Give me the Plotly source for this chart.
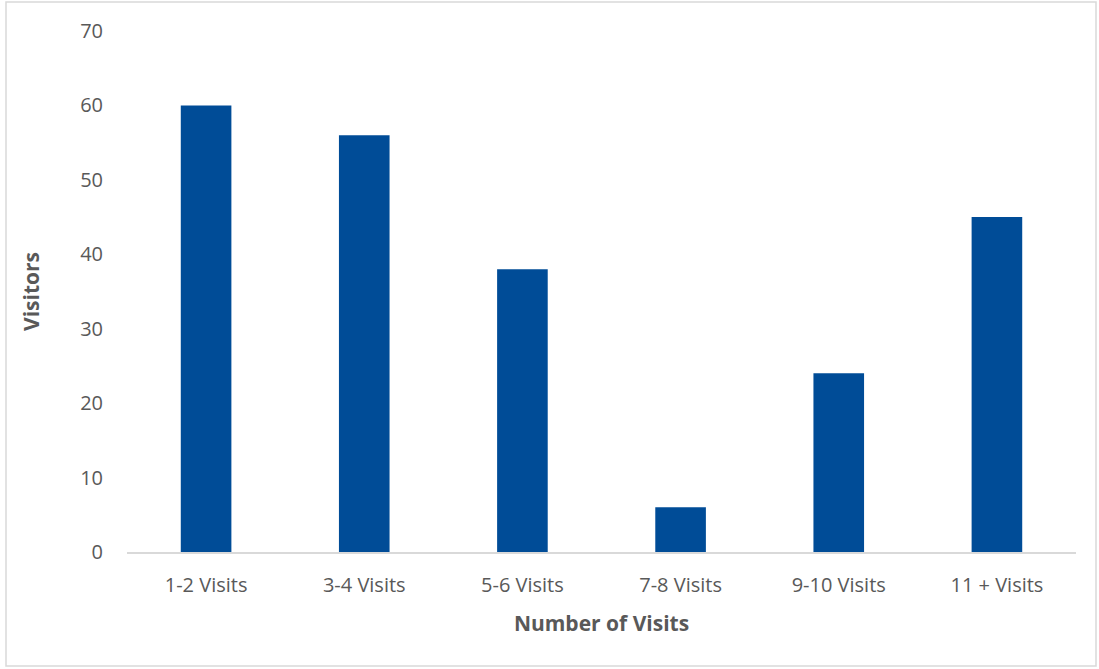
import plotly.graph_objects as go

categories = ["1-2 Visits", "3-4 Visits", "5-6 Visits", "7-8 Visits", "9-10 Visits", "11 + Visits"]
visitors = [60, 56, 38, 6, 24, 45]
y_ticks = [0, 10, 20, 30, 40, 50, 60, 70]

W, H = 1099, 669
L, R, T, B = 127, 23, 31, 117
pw, ph = W - L - R, H - T - B

fig = go.Figure(go.Bar(x=categories, y=visitors, marker=dict(color="#004C97", line=dict(width=0))))

font_family = "Open Sans, Liberation Sans, sans-serif"
fig.update_layout(
    width=W, height=H,
    margin=dict(l=L, r=R, t=T, b=B),
    paper_bgcolor="white", plot_bgcolor="white",
    bargap=0.68,
    showlegend=False,
    font=dict(family=font_family, color="#595959", size=20),
    xaxis=dict(
        showline=True, linecolor="#D9D9D9", linewidth=1.5,
        ticks="outside", ticklen=14, tickcolor="rgba(0,0,0,0)",
        tickfont=dict(size=20, color="#595959"),
        title=dict(text="<b>Number of Visits</b>", font=dict(size=21, color="#595959"), standoff=20),
        showgrid=False,
    ),
    yaxis=dict(
        range=[0, 70], tickvals=y_ticks, showgrid=False, zeroline=False,
        showline=False, ticks="outside", ticklen=19, tickcolor="rgba(0,0,0,0)",
        tickfont=dict(size=20, color="#595959"),
        title=dict(text="<b>Visitors</b>", font=dict(size=21, color="#595959"), standoff=34),
    ),
    shapes=[dict(
        type="rect", xref="paper", yref="paper",
        x0=(6 - L) / pw, x1=(1096 - L) / pw,
        y0=(H - B - 666) / ph, y1=(H - B - 2) / ph,
        line=dict(color="#D9D9D9", width=1.5), fillcolor="rgba(0,0,0,0)", layer="below",
    )],
)

fig.write_html("out.html")
